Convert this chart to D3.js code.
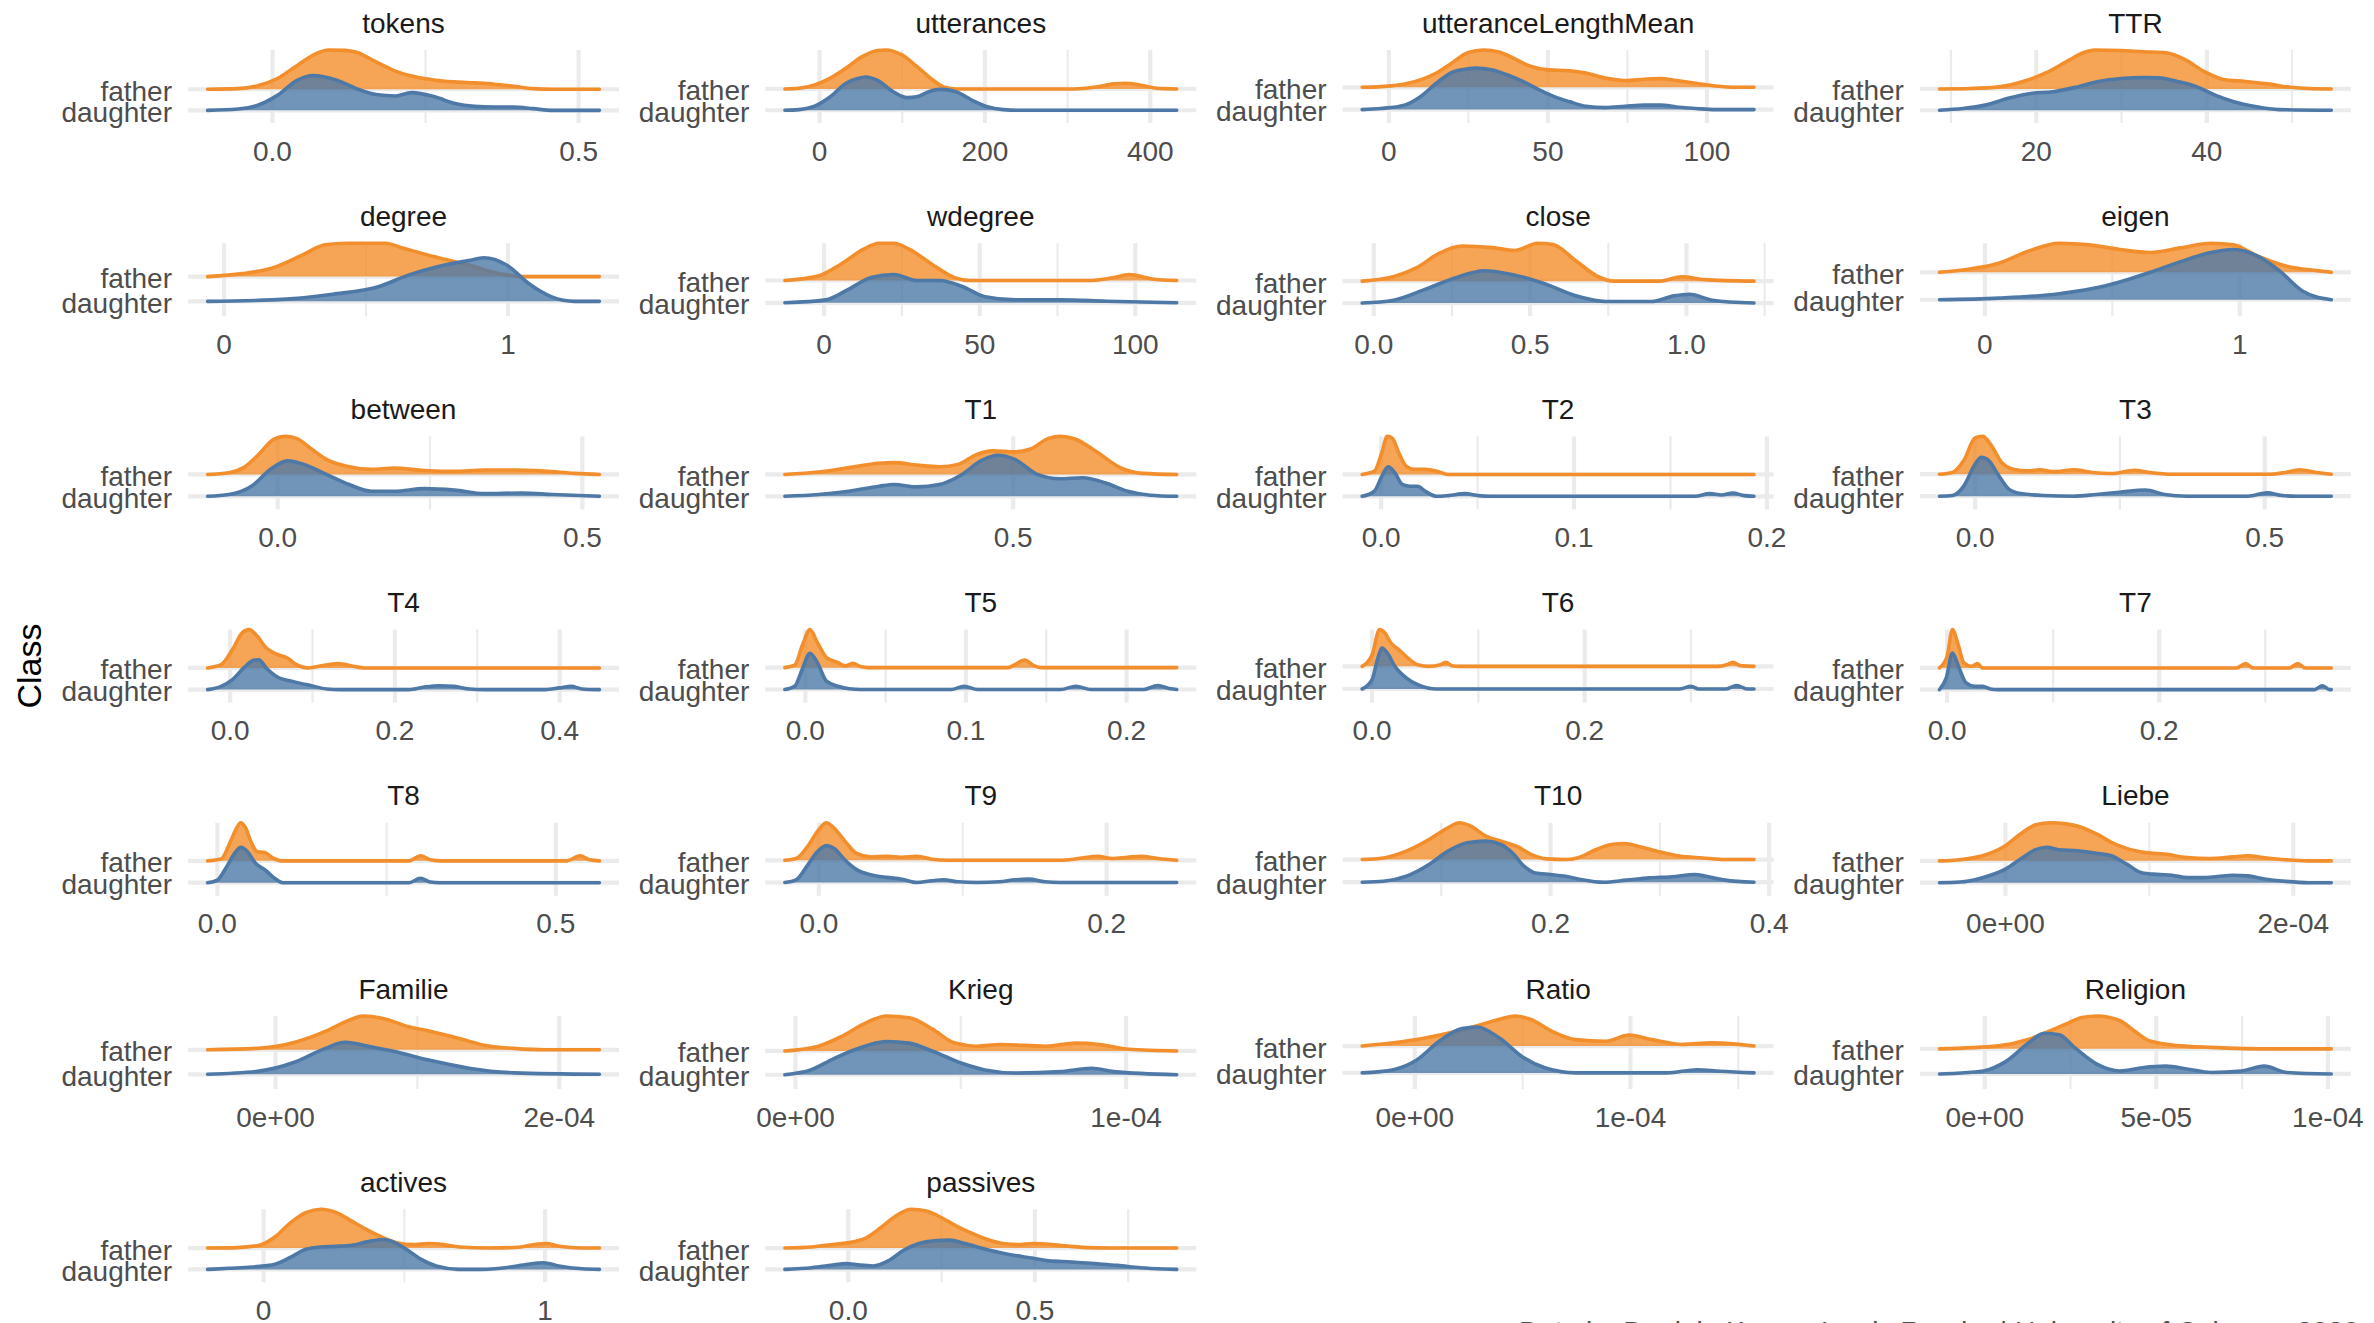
<!DOCTYPE html>
<html><head><meta charset="utf-8">
<script src="https://cdn.jsdelivr.net/npm/d3@7"></script>
<style>
body{margin:0;background:#fff}
svg{display:block}
text{font-family:"Liberation Sans",Arial,Helvetica,sans-serif}
</style>
</head><body>
<svg id="chart" width="2374" height="1323"></svg>
<script>
const panelNames = ["tokens","utterances","utteranceLengthMean","TTR","degree","wdegree","close","eigen","between","T1","T2","T3","T4","T5","T6","T7","T8","T9","T10","Liebe","Familie","Krieg","Ratio","Religion","actives","passives"];
const classes = ["father","daughter"];
const yAxisTitle = "Class";
const captionText = "Data by Daniela Kunze, Lewis Roeder | University of Cologne, 2020";

const tickValues = [[0,0.5],[0,200,400],[0,50,100],[20,40],[0,1],[0,50,100],[0,0.5,1],[0,1],[0,0.5],[0.5],[0,0.1,0.2],[0,0.5],[0,0.2,0.4],[0,0.1,0.2],[0,0.2],[0,0.2],[0,0.5],[0,0.2],[0.2,0.4],[0,2e-4],[0,2e-4],[0,1e-4],[0,1e-4],[0,5e-5,1e-4],[0,1],[0,0.5]];
const tickLabels = [["0.0","0.5"],["0","200","400"],["0","50","100"],["20","40"],["0","1"],["0","50","100"],["0.0","0.5","1.0"],["0","1"],["0.0","0.5"],["0.5"],["0.0","0.1","0.2"],["0.0","0.5"],["0.0","0.2","0.4"],["0.0","0.1","0.2"],["0.0","0.2"],["0.0","0.2"],["0.0","0.5"],["0.0","0.2"],["0.2","0.4"],["0e+00","2e-04"],["0e+00","2e-04"],["0e+00","1e-04"],["0e+00","1e-04"],["0e+00","5e-05","1e-04"],["0","1"],["0.0","0.5"]];
const tickSteps = [0.5,200,50,20,1,50,0.5,1,0.5,0.5,0.1,0.5,0.2,0.1,0.2,0.2,0.5,0.2,0.2,2e-4,2e-4,1e-4,1e-4,5e-5,1,0.5];

// density ridges: [x, height in ridge units]
const fatherDensity = [
 [[-0.106,0],[-0.056,0.03],[-0.024,0.17],[0.008,0.51],[0.041,1.14],[0.073,1.71],[0.092,1.86],[0.118,1.84],[0.137,1.75],[0.169,1.30],[0.201,0.86],[0.233,0.59],[0.266,0.43],[0.298,0.35],[0.330,0.30],[0.362,0.24],[0.394,0.14],[0.426,0.03],[0.458,0],[0.534,0]],
 [[-42,0],[-25,0.03],[-6,0.19],[13,0.51],[32,0.98],[51,1.51],[70,1.81],[80,1.83],[98.5,1.62],[117.5,1.06],[136.6,0.43],[151,0.08],[165,0],[308,0],[332,0.08],[356,0.24],[370,0.27],[389,0.17],[408,0.03],[432,0]],
 [[-8.4,0],[-2.5,0.03],[4.9,0.15],[9.9,0.33],[14.9,0.64],[19.8,1.09],[24.8,1.55],[29.7,1.67],[34.6,1.58],[39.6,1.27],[44.5,0.94],[49.5,0.79],[56.9,0.74],[61.9,0.64],[68.1,0.41],[74.3,0.30],[80.4,0.36],[85.4,0.39],[90.4,0.30],[96.5,0.18],[102.7,0.06],[108.9,0],[114.8,0]],
 [[8.65,0],[12.27,0.02],[15.8,0.11],[18.45,0.35],[21.11,0.75],[23.75,1.33],[25.51,1.70],[26.84,1.83],[29.93,1.81],[32.58,1.75],[35.23,1.70],[37.44,1.38],[39.64,0.83],[41.85,0.46],[44.5,0.35],[47.14,0.24],[49.8,0.08],[52,0.02],[54.6,0]],
 [[-0.058,0],[0.064,0.12],[0.17,0.35],[0.277,0.88],[0.356,1.29],[0.436,1.35],[0.569,1.35],[0.622,1.18],[0.755,0.76],[0.862,0.47],[0.968,0.12],[1.048,0],[1.322,0]],
 [[-12.6,0],[-1.9,0.2],[5.4,0.73],[12.7,1.4],[17.6,1.67],[22.4,1.67],[27.3,1.4],[34.6,0.73],[41.9,0.13],[46.8,0],[85.9,0],[93.2,0.13],[98,0.27],[105.3,0.07],[113.3,0]],
 [[-0.037,0],[0.063,0.2],[0.136,0.6],[0.209,1.27],[0.282,1.6],[0.379,1.53],[0.451,1.4],[0.524,1.73],[0.573,1.67],[0.646,0.93],[0.718,0.2],[0.767,0],[0.913,0],[0.985,0.2],[1.058,0.07],[1.216,0]],
 [[-0.178,0],[-0.065,0.11],[0.054,0.33],[0.173,0.78],[0.292,1.06],[0.411,1.0],[0.530,0.83],[0.649,0.72],[0.768,0.89],[0.887,1.06],[0.976,1.0],[1.066,0.61],[1.184,0.22],[1.303,0.06],[1.359,0]],
 [[-0.115,0],[-0.08,0.08],[-0.056,0.31],[-0.031,0.92],[-0.006,1.62],[0.012,1.74],[0.031,1.65],[0.056,1.15],[0.08,0.69],[0.117,0.35],[0.154,0.23],[0.191,0.29],[0.241,0.18],[0.29,0.14],[0.339,0.20],[0.389,0.20],[0.438,0.15],[0.488,0.05],[0.528,0]],
 [[0.2915,0],[0.3225,0.11],[0.3499,0.31],[0.3775,0.51],[0.3913,0.54],[0.4119,0.43],[0.4325,0.35],[0.4497,0.46],[0.4669,0.92],[0.4807,1.08],[0.5014,1.03],[0.5151,1.15],[0.5323,1.65],[0.5426,1.74],[0.5564,1.62],[0.5771,1.0],[0.5977,0.31],[0.6184,0.05],[0.6493,0]],
 [[-0.0098,0],[-0.0035,0.15],[0.0004,1.0],[0.0032,1.74],[0.0059,1.65],[0.0091,1.0],[0.013,0.38],[0.017,0.23],[0.0229,0.23],[0.0288,0.15],[0.0347,0],[0.1933,0]],
 [[-0.0616,0],[-0.0393,0.08],[-0.0197,0.62],[0,1.65],[0.013,1.72],[0.026,1.38],[0.0458,0.54],[0.0654,0.23],[0.0916,0.15],[0.111,0.20],[0.137,0.12],[0.170,0.20],[0.203,0.08],[0.235,0.03],[0.275,0.18],[0.301,0.08],[0.340,0],[0.510,0],[0.536,0.08],[0.560,0.20],[0.589,0.08],[0.615,0]],
 [[-0.0274,0],[-0.011,0.15],[0.0028,0.85],[0.0146,1.62],[0.0229,1.77],[0.0329,1.46],[0.0438,0.92],[0.0575,0.62],[0.0694,0.46],[0.0804,0.15],[0.0941,0],[0.1078,0.08],[0.131,0.20],[0.149,0.08],[0.163,0],[0.4483,0]],
 [[-0.0127,0],[-0.0066,0.11],[-0.0019,1.0],[0.0029,1.74],[0.0075,1.15],[0.0132,0.46],[0.0203,0.23],[0.0249,0.08],[0.0296,0.20],[0.0344,0.05],[0.0391,0],[0.1261,0],[0.1308,0.15],[0.1365,0.35],[0.1426,0.08],[0.1473,0],[0.2312,0]],
 [[-0.0093,0],[0,0.51],[0.0071,1.62],[0.0121,1.47],[0.0178,1.03],[0.025,0.74],[0.0335,0.37],[0.0429,0.07],[0.0535,0],[0.0643,0.07],[0.0693,0.18],[0.075,0.03],[0.0821,0],[0.325,0],[0.3337,0.07],[0.3393,0.18],[0.3465,0.03],[0.3593,0]],
 [[-0.0072,0],[0,0.54],[0.005,1.77],[0.01,1.15],[0.0158,0.23],[0.0229,0.08],[0.0286,0.20],[0.0335,0],[0.2729,0],[0.2815,0.20],[0.2886,0],[0.3229,0],[0.3307,0.20],[0.3379,0],[0.3623,0]],
 [[-0.0144,0],[0.0056,0.08],[0.0189,0.85],[0.0279,1.46],[0.0345,1.74],[0.0412,1.54],[0.05,0.85],[0.059,0.42],[0.07,0.38],[0.0812,0.15],[0.0945,0],[0.2834,0],[0.300,0.23],[0.3145,0.05],[0.3279,0],[0.5166,0],[0.5355,0.23],[0.55,0.05],[0.5644,0]],
 [[-0.0236,0],[-0.0158,0.08],[-0.0079,0.62],[0,1.38],[0.0052,1.69],[0.0104,1.46],[0.0183,0.85],[0.0262,0.31],[0.0367,0.15],[0.0471,0.18],[0.0576,0.14],[0.0681,0.18],[0.0785,0.05],[0.089,0],[0.1676,0],[0.1806,0.08],[0.1938,0.18],[0.2042,0.08],[0.2147,0.14],[0.2241,0.18],[0.2356,0.08],[0.2487,0]],
 [[0.0277,0],[0.0472,0.07],[0.068,0.37],[0.0888,0.88],[0.1062,1.40],[0.1166,1.62],[0.1271,1.47],[0.1409,1.03],[0.1549,0.81],[0.1687,0.59],[0.1826,0.22],[0.1965,0.03],[0.2139,0],[0.2243,0.07],[0.2417,0.44],[0.2555,0.66],[0.268,0.71],[0.2798,0.59],[0.2972,0.37],[0.318,0.15],[0.3389,0.07],[0.3597,0],[0.3861,0]],
 [[-0.458e-4,0],[-0.316e-4,0.05],[-0.159e-4,0.23],[0,0.69],[0.105e-4,1.23],[0.210e-4,1.65],[0.316e-4,1.74],[0.421e-4,1.69],[0.526e-4,1.54],[0.632e-4,1.23],[0.736e-4,0.85],[0.842e-4,0.57],[0.974e-4,0.38],[1.105e-4,0.31],[1.263e-4,0.15],[1.421e-4,0.11],[1.579e-4,0.18],[1.684e-4,0.23],[1.790e-4,0.15],[1.947e-4,0.05],[2.105e-4,0],[2.264e-4,0]],
 [[-0.479e-4,0],[-0.127e-4,0.06],[0.138e-4,0.31],[0.351e-4,0.75],[0.511e-4,1.19],[0.618e-4,1.38],[0.777e-4,1.25],[0.937e-4,0.94],[1.096e-4,0.75],[1.309e-4,0.44],[1.469e-4,0.19],[1.682e-4,0.06],[1.894e-4,0],[2.283e-4,0]],
 [[-0.032e-4,0],[0.069e-4,0.2],[0.138e-4,0.6],[0.206e-4,1.13],[0.275e-4,1.47],[0.344e-4,1.4],[0.413e-4,0.93],[0.482e-4,0.33],[0.550e-4,0.2],[0.619e-4,0.27],[0.757e-4,0.2],[0.848e-4,0.33],[0.918e-4,0.27],[1.009e-4,0.07],[1.153e-4,0]],
 [[-0.244e-4,0],[-0.099e-4,0.12],[0.042e-4,0.29],[0.183e-4,0.53],[0.289e-4,0.76],[0.394e-4,1.0],[0.465e-4,1.12],[0.535e-4,1.0],[0.641e-4,0.53],[0.746e-4,0.24],[0.887e-4,0.18],[0.993e-4,0.41],[1.099e-4,0.24],[1.239e-4,0.06],[1.380e-4,0.12],[1.573e-4,0]],
 [[-0.132e-4,0],[0.04e-4,0.12],[0.129e-4,0.38],[0.195e-4,0.75],[0.239e-4,1.0],[0.283e-4,1.25],[0.328e-4,1.31],[0.394e-4,1.12],[0.438e-4,0.69],[0.482e-4,0.31],[0.571e-4,0.12],[0.659e-4,0.06],[0.836e-4,0],[1.010e-4,0]],
 [[-0.199,0],[-0.095,0.02],[-0.014,0.13],[0.041,0.53],[0.095,1.18],[0.150,1.66],[0.204,1.82],[0.259,1.66],[0.313,1.26],[0.368,0.85],[0.422,0.5],[0.477,0.24],[0.531,0.16],[0.586,0.21],[0.640,0.16],[0.695,0.05],[0.804,0],[0.913,0.05],[0.967,0.18],[1.008,0.21],[1.049,0.08],[1.131,0],[1.193,0]],
 [[-0.170,0],[-0.098,0.05],[-0.037,0.18],[0.004,0.26],[0.045,0.45],[0.086,0.94],[0.127,1.50],[0.168,1.82],[0.209,1.74],[0.250,1.42],[0.291,1.02],[0.332,0.69],[0.373,0.40],[0.414,0.21],[0.455,0.16],[0.496,0.21],[0.537,0.18],[0.578,0.10],[0.640,0.02],[0.701,0],[0.880,0]]
];
const daughterDensity = [
 [[-0.106,0],[-0.056,0.06],[-0.024,0.24],[0.008,0.71],[0.041,1.43],[0.066,1.65],[0.105,1.43],[0.137,1.03],[0.169,0.75],[0.201,0.68],[0.227,0.84],[0.266,0.63],[0.298,0.32],[0.330,0.19],[0.362,0.16],[0.394,0.16],[0.426,0.08],[0.458,0],[0.534,0]],
 [[-42,0],[-25,0.03],[-6,0.19],[13,0.63],[32,1.27],[46,1.49],[56,1.56],[70,1.40],[89,0.87],[106,0.59],[117.5,0.63],[132,0.87],[146,0.98],[165,0.87],[184,0.48],[203,0.16],[222,0.03],[241,0],[432,0]],
 [[-8.4,0],[-2.5,0.05],[4.9,0.20],[9.9,0.58],[14.9,1.18],[19.8,1.67],[24.8,1.83],[27.2,1.86],[32.2,1.79],[37.1,1.56],[42.1,1.26],[47.0,0.91],[52.0,0.58],[56.9,0.35],[61.9,0.15],[68.1,0.09],[74.3,0.15],[80.4,0.20],[85.4,0.20],[90.4,0.12],[96.5,0.05],[102.7,0],[114.8,0]],
 [[8.65,0],[11.39,0.08],[14.03,0.24],[16.69,0.56],[19.34,0.79],[21.98,0.87],[24.64,1.08],[27.28,1.35],[29.93,1.49],[32.58,1.54],[34.35,1.52],[36.55,1.35],[38.76,1.11],[40.97,0.71],[43.17,0.40],[45.83,0.16],[48.47,0.03],[54.6,0]],
 [[-0.058,0],[0.17,0.06],[0.383,0.29],[0.543,0.59],[0.649,1.06],[0.755,1.41],[0.862,1.65],[0.915,1.76],[0.995,1.47],[1.074,0.71],[1.154,0.18],[1.234,0],[1.322,0]],
 [[-12.6,0],[0.5,0.13],[7.8,0.6],[15.1,1.13],[22.4,1.27],[29.8,1.0],[37.1,1.0],[44.4,0.73],[51.7,0.27],[61.5,0.13],[76.1,0.13],[90.7,0.07],[113.3,0]],
 [[-0.037,0],[0.063,0.13],[0.160,0.6],[0.257,1.13],[0.354,1.47],[0.451,1.27],[0.549,0.87],[0.646,0.33],[0.743,0.07],[0.888,0.07],[0.961,0.33],[1.010,0.4],[1.083,0.13],[1.216,0]],
 [[-0.178,0],[0.054,0.06],[0.292,0.22],[0.470,0.5],[0.649,1.0],[0.768,1.39],[0.887,1.72],[0.976,1.83],[1.066,1.61],[1.155,1.06],[1.244,0.33],[1.359,0]],
 [[-0.115,0],[-0.08,0.08],[-0.043,0.46],[-0.012,1.23],[0.016,1.62],[0.043,1.46],[0.08,1.0],[0.117,0.54],[0.154,0.23],[0.191,0.23],[0.241,0.35],[0.29,0.28],[0.339,0.12],[0.401,0.15],[0.451,0.08],[0.528,0]],
 [[0.2915,0],[0.3225,0.08],[0.3499,0.23],[0.3775,0.46],[0.3913,0.54],[0.4119,0.43],[0.4325,0.54],[0.4532,1.0],[0.4704,1.62],[0.4862,1.88],[0.5014,1.69],[0.522,1.0],[0.5426,0.80],[0.5633,0.85],[0.5839,0.62],[0.6045,0.23],[0.6252,0.05],[0.6493,0]],
 [[-0.0098,0],[-0.0035,0.23],[0.0004,0.92],[0.0036,1.35],[0.0071,1.08],[0.011,0.54],[0.015,0.46],[0.0189,0.46],[0.0229,0.23],[0.0288,0],[0.0347,0.03],[0.0437,0.12],[0.0504,0.03],[0.0563,0],[0.1626,0],[0.1705,0.12],[0.1764,0.06],[0.1823,0.15],[0.1882,0.03],[0.1933,0]],
 [[-0.0616,0],[-0.0393,0.03],[-0.0197,0.46],[0,1.46],[0.0104,1.77],[0.0235,1.62],[0.0392,1.0],[0.0588,0.31],[0.0785,0.12],[0.118,0.03],[0.170,0],[0.209,0.08],[0.249,0.18],[0.294,0.28],[0.327,0.08],[0.366,0],[0.471,0],[0.504,0.15],[0.530,0.03],[0.556,0],[0.615,0]],
 [[-0.0274,0],[-0.011,0.15],[0.0028,0.46],[0.0165,1.0],[0.0283,1.35],[0.0347,1.38],[0.0438,1.0],[0.0575,0.58],[0.0758,0.38],[0.0987,0.18],[0.117,0.03],[0.135,0],[0.217,0],[0.236,0.12],[0.254,0.18],[0.272,0.15],[0.290,0.03],[0.309,0],[0.382,0],[0.40,0.08],[0.414,0.15],[0.427,0.03],[0.4483,0]],
 [[-0.0127,0],[-0.0066,0.15],[-0.0019,0.92],[0.0029,1.66],[0.0075,1.23],[0.0132,0.38],[0.0203,0.15],[0.0273,0.03],[0.0344,0],[0.0908,0],[0.0988,0.15],[0.1073,0],[0.159,0],[0.1684,0.15],[0.1779,0],[0.2108,0],[0.2193,0.18],[0.2273,0.03],[0.2312,0]],
 [[-0.0093,0],[0,0.41],[0.005,1.29],[0.0093,1.81],[0.0143,1.59],[0.0214,1.0],[0.0321,0.49],[0.0429,0.19],[0.0535,0.03],[0.0607,0],[0.2893,0],[0.300,0.12],[0.3072,0],[0.3322,0],[0.3429,0.15],[0.3536,0],[0.3593,0]],
 [[-0.0072,0],[-0.0008,0.54],[0.005,1.69],[0.0107,1.08],[0.0179,0.31],[0.0264,0.15],[0.0335,0.15],[0.0407,0.03],[0.0479,0],[0.3465,0],[0.3537,0.18],[0.3608,0],[0.3623,0]],
 [[-0.0144,0],[0,0.12],[0.0145,0.77],[0.0257,1.35],[0.0345,1.62],[0.0445,1.42],[0.0556,0.92],[0.0723,0.54],[0.0834,0.23],[0.0967,0],[0.2834,0],[0.300,0.2],[0.3145,0.03],[0.3279,0],[0.5644,0]],
 [[-0.0236,0],[-0.0158,0.12],[-0.0079,0.77],[-0.0011,1.38],[0.0052,1.66],[0.0104,1.54],[0.0183,1.0],[0.0262,0.58],[0.0367,0.34],[0.0471,0.23],[0.0576,0.15],[0.0681,0],[0.0785,0.08],[0.0864,0.12],[0.0969,0.03],[0.1099,0],[0.1256,0.03],[0.1361,0.12],[0.1456,0.15],[0.1571,0.03],[0.1676,0],[0.2487,0]],
 [[0.0277,0],[0.0472,0.04],[0.068,0.26],[0.0888,0.78],[0.1062,1.37],[0.1236,1.74],[0.1409,1.81],[0.1549,1.66],[0.1652,1.29],[0.1757,0.71],[0.1861,0.41],[0.2,0.34],[0.2139,0.26],[0.2277,0.12],[0.2486,0],[0.2694,0.09],[0.2903,0.19],[0.3111,0.24],[0.3319,0.34],[0.3423,0.26],[0.3597,0.09],[0.3861,0]],
 [[-0.458e-4,0],[-0.316e-4,0.03],[-0.159e-4,0.23],[0,0.62],[0.105e-4,1.08],[0.21e-4,1.51],[0.289e-4,1.62],[0.369e-4,1.51],[0.5e-4,1.46],[0.632e-4,1.35],[0.736e-4,1.23],[0.842e-4,0.85],[0.947e-4,0.46],[1.053e-4,0.38],[1.158e-4,0.34],[1.263e-4,0.23],[1.369e-4,0.23],[1.474e-4,0.28],[1.579e-4,0.34],[1.684e-4,0.31],[1.790e-4,0.18],[1.947e-4,0.06],[2.105e-4,0],[2.264e-4,0]],
 [[-0.479e-4,0],[-0.127e-4,0.12],[0.138e-4,0.5],[0.351e-4,1.06],[0.49e-4,1.31],[0.670e-4,1.12],[0.830e-4,0.94],[1.096e-4,0.56],[1.362e-4,0.25],[1.682e-4,0.06],[2.283e-4,0]],
 [[-0.032e-4,0],[0.046e-4,0.2],[0.115e-4,0.67],[0.183e-4,1.07],[0.275e-4,1.4],[0.344e-4,1.33],[0.413e-4,1.0],[0.505e-4,0.47],[0.573e-4,0.2],[0.665e-4,0.07],[0.803e-4,0.13],[0.895e-4,0.27],[0.963e-4,0.13],[1.153e-4,0]],
 [[-0.244e-4,0],[-0.099e-4,0.12],[0.007e-4,0.47],[0.113e-4,1.18],[0.218e-4,1.65],[0.289e-4,1.71],[0.394e-4,1.29],[0.5e-4,0.59],[0.606e-4,0.18],[0.746e-4,0],[1.169e-4,0],[1.310e-4,0.12],[1.415e-4,0.06],[1.573e-4,0]],
 [[-0.132e-4,0],[-0.004e-4,0.12],[0.062e-4,0.5],[0.129e-4,1.25],[0.173e-4,1.62],[0.217e-4,1.56],[0.261e-4,1.06],[0.328e-4,0.38],[0.394e-4,0.12],[0.460e-4,0.25],[0.527e-4,0.31],[0.593e-4,0.19],[0.659e-4,0.06],[0.748e-4,0.12],[0.814e-4,0.31],[0.881e-4,0.06],[1.010e-4,0]],
 [[-0.199,0],[-0.123,0.05],[-0.041,0.11],[0.041,0.24],[0.095,0.56],[0.150,0.94],[0.204,1.05],[0.259,1.08],[0.313,1.13],[0.368,1.29],[0.422,1.40],[0.449,1.34],[0.504,0.97],[0.558,0.48],[0.613,0.16],[0.695,0],[0.776,0],[0.858,0.08],[0.940,0.24],[0.994,0.31],[1.049,0.16],[1.131,0.03],[1.193,0]],
 [[-0.170,0],[-0.098,0.08],[-0.037,0.21],[-0.006,0.27],[0.025,0.21],[0.066,0.16],[0.107,0.40],[0.148,0.89],[0.189,1.21],[0.230,1.34],[0.271,1.37],[0.312,1.21],[0.373,0.92],[0.434,0.69],[0.496,0.52],[0.537,0.40],[0.599,0.35],[0.660,0.27],[0.721,0.19],[0.783,0.08],[0.844,0.02],[0.880,0]]
];
const densities = {father: fatherDensity, daughter: daughterDensity};

// ---- layout & style ----
const ncol = 4, firstLeft = 188, colPitch = 577.3, panelW = 431;
const firstTop = 50, rowPitch = 193.2, panelH = 73;
const lineColor = {father: "#F28E2B", daughter: "#4E79A7"};
const fillColor = {father: "rgba(242,142,43,0.8)", daughter: "rgba(78,121,167,0.8)"};
const classPos = {father: 2, daughter: 1};
const gridColor = "#EBEBEB";

const svg = d3.select("#chart");
svg.append("rect").attr("width", 2374).attr("height", 1323).attr("fill", "#fff");

panelNames.forEach((name, i) => {
  const c = i % ncol, r = Math.floor(i / ncol);
  const left = firstLeft + c * colPitch, right = left + panelW;
  const top = firstTop + r * rowPitch, bottom = top + panelH;
  const F = fatherDensity[i], D = daughterDensity[i];
  const xmin = Math.min(F[0][0], D[0][0]);
  const xmax = Math.max(F[F.length - 1][0], D[D.length - 1][0]);
  const pad = (xmax - xmin) * 0.05;
  const x = d3.scaleLinear().domain([xmin - pad, xmax + pad]).range([left, right]);
  const yTop = Math.max(2 + d3.max(F, d => d[1]), 1 + d3.max(D, d => d[1]));
  const y = d3.scaleLinear().domain([0.4, yTop]).range([bottom, top]);

  const g = svg.append("g");
  const [d0, d1] = x.domain();
  const step = tickSteps[i];
  const minors = [];
  for (let k = Math.floor(d0 / step) - 1; k <= Math.ceil(d1 / step); k++) {
    const v = (k + 0.5) * step;
    if (v >= d0 && v <= d1) minors.push(v);
  }
  g.selectAll(".minor").data(minors).enter().append("line")
    .attr("x1", d => x(d)).attr("x2", d => x(d)).attr("y1", top).attr("y2", bottom)
    .attr("stroke", gridColor).attr("stroke-width", 2.2);
  g.selectAll(".major").data(tickValues[i]).enter().append("line")
    .attr("x1", d => x(d)).attr("x2", d => x(d)).attr("y1", top).attr("y2", bottom)
    .attr("stroke", gridColor).attr("stroke-width", 4.2);
  g.selectAll(".hgrid").data(classes).enter().append("line")
    .attr("x1", left).attr("x2", right).attr("y1", d => y(classPos[d])).attr("y2", d => y(classPos[d]))
    .attr("stroke", gridColor).attr("stroke-width", 4.2);

  classes.forEach(cls => {
    const b = classPos[cls];
    const pts = densities[cls][i];
    const area = d3.area().x(d => x(d[0])).y0(y(b)).y1(d => y(b + d[1])).curve(d3.curveMonotoneX);
    const line = d3.line().x(d => x(d[0])).y(d => y(b + d[1])).curve(d3.curveMonotoneX);
    g.append("path").attr("d", area(pts)).attr("fill", fillColor[cls]);
    g.append("path").attr("d", line(pts)).attr("fill", "none")
      .attr("stroke", lineColor[cls]).attr("stroke-width", 3.6)
      .attr("stroke-linejoin", "round").attr("stroke-linecap", "round");
  });

  g.selectAll(".ylab").data(classes).enter().append("text")
    .attr("x", left - 16).attr("y", d => y(classPos[d]) + 2)
    .attr("text-anchor", "end").attr("dominant-baseline", "central")
    .attr("font-size", 28).attr("fill", "#4D4D4D").text(d => d);
  g.selectAll(".xlab").data(tickValues[i]).enter().append("text")
    .attr("x", d => x(d)).attr("y", bottom + 28)
    .attr("text-anchor", "middle").attr("dominant-baseline", "central")
    .attr("font-size", 28).attr("fill", "#4D4D4D").text((d, j) => tickLabels[i][j]);
  g.append("text").attr("x", (left + right) / 2).attr("y", top - 27)
    .attr("text-anchor", "middle").attr("dominant-baseline", "central")
    .attr("font-size", 28).attr("fill", "#1A1A1A").text(name);
});

svg.append("text").attr("transform", "translate(29,666) rotate(-90)")
  .attr("text-anchor", "middle").attr("dominant-baseline", "central")
  .attr("font-size", 34).attr("fill", "#000").text(yAxisTitle);

svg.append("text").attr("x", 1519).attr("y", 1341)
  .attr("text-anchor", "start")
  .attr("font-size", 28).attr("fill", "#4D4D4D").text(captionText);
</script>
</body></html>
